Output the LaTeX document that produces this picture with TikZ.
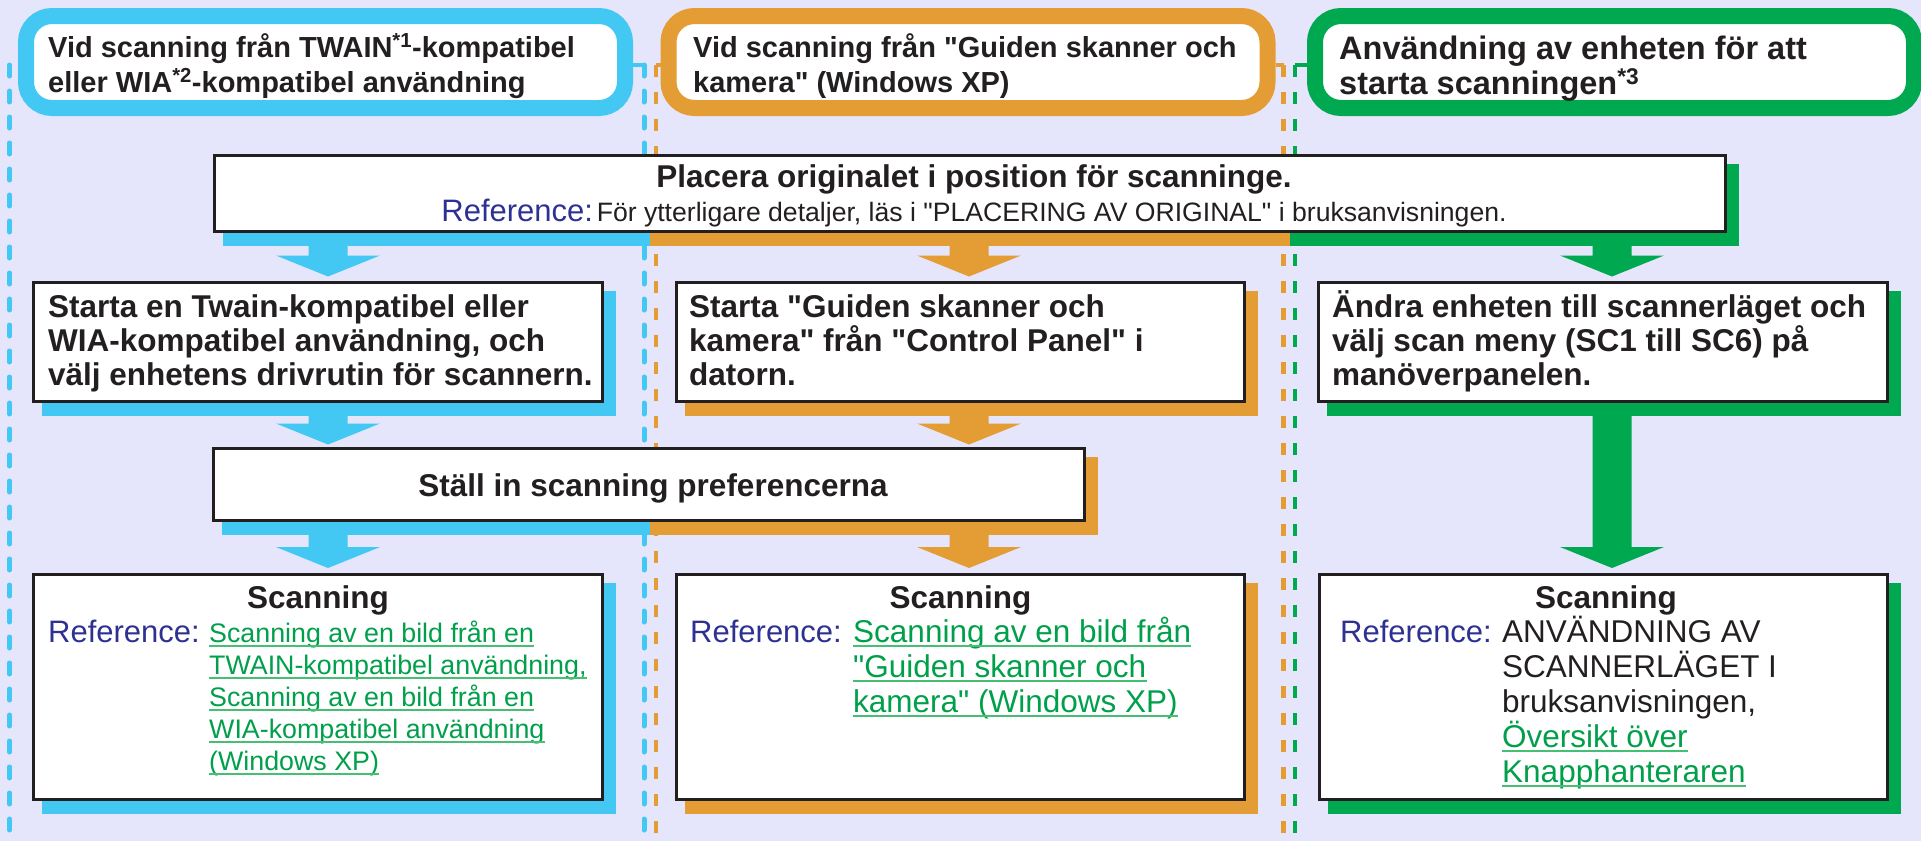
\documentclass[tikz,border=0pt]{standalone}
\usepackage{fontspec}
\setmainfont{Liberation Sans}[Ligatures=TeXOff]
\usetikzlibrary{calc}
\definecolor{bgc}{RGB}{229,229,251}
\definecolor{cB}{RGB}{66,200,243}
\definecolor{cO}{RGB}{228,157,53}
\definecolor{cG}{RGB}{0,168,80}
\definecolor{refblue}{RGB}{46,49,146}
\definecolor{lnk}{RGB}{0,160,75}
\definecolor{ulc}{RGB}{70,190,115}
\definecolor{ink}{RGB}{35,31,32}
\pgfdeclarelayer{back}
\pgfdeclarelayer{shade}
\pgfsetlayers{back,shade,main}
\newcommand\fHead{\bfseries\fontsize{29}{35}\selectfont}
\newcommand\fHeadG{\bfseries\fontsize{32.5}{36}\selectfont}
\newcommand\fBold{\bfseries\fontsize{31.5}{34}\selectfont}
\newcommand\fRef{\fontsize{31}{35}\selectfont\color{refblue}}
\newcommand\fLink{\fontsize{31.5}{35}\selectfont}
\newcommand\fLinkS{\fontsize{26.8}{32}\selectfont}
\newcommand\fSmall{\fontsize{26.6}{30}\selectfont}
\newcommand\fReg{\fontsize{31.5}{35}\selectfont}
\newcommand\fatarr[3]{\fill[#1] let \p1=(#2), \p2=(#3) in
  (\x1-19.5pt,\y1) -- (\x1+19.5pt,\y1) -- (\x1+19.5pt,\y2+21pt) -- (\x1+52pt,\y2+21pt)
  -- (\x1,\y2) -- (\x1-52pt,\y2+21pt) -- (\x1-19.5pt,\y2+21pt) -- cycle;}
\newcommand\linkline[4]{\node[txt, text=lnk] (#1) at (#2) {#3#4};
  \draw[ul] ($(#1.base west)+(0,4)$) -- ($(#1.base east)+(0,4)$);}
\newcommand\shadowof[2]{\fill[#2] ($(#1.north west)+(9.5,9.5)$) rectangle ($(#1.south east)+(11.5,12.5)$);}
\begin{document}
\begin{tikzpicture}[x=1pt,y=-1pt,
  hdr/.style={draw=#1, line width=16pt, fill=white, rounded corners=26pt, inner sep=0pt, minimum height=92pt, minimum width=599pt},
  box/.style={draw=ink, line width=3pt, fill=white, inner sep=0pt},
  txt/.style={inner sep=0pt, anchor=base west, text=ink},
  ctxt/.style={inner sep=0pt, anchor=base, text=ink},
  dB/.style={draw=cB, line width=5pt, line cap=round, dash pattern=on 11pt off 15pt},
  dO/.style={draw=cO, line width=4.5pt, dash pattern=on 12pt off 15pt},
  dG/.style={draw=cG, line width=4.5pt, dash pattern=on 12pt off 15pt},
  ul/.style={draw=ulc, line width=1.8pt}]
\useasboundingbox (0,0) rectangle (1921,841);

% headers
\node[hdr=cB] (hB) at (325.5,62) {};
\node[hdr=cO] (hO) at (968,62) {};
\node[hdr=cG] (hG) at (1614.5,62) {};
\node[txt] (tB1) at (48,57) {\fHead Vid scanning från TWAIN\textsuperscript{*1}-kompatibel};
\node[txt] (tB2) at (48,92) {\fHead eller WIA\textsuperscript{*2}-kompatibel användning};
\node[txt] (tO1) at (693,57) {\fHead Vid scanning från "Guiden skanner och};
\node[txt] (tO2) at (693,92) {\fHead kamera" (Windows XP)};
\node[txt] (tG1) at (1339,59) {\fHeadG Användning av enheten för att};
\node[txt] (tG2) at (1339,94) {\fHeadG starta scanningen\textsuperscript{*3}};

% column dividers
\coordinate (div1) at (649.5,0);
\coordinate (div2) at (1289.5,0);
\coordinate (vB1a) at (9.5,65);
\coordinate (vB1b) at (9.5,841);
\coordinate (vB2b) at (644,841);
\coordinate (vO1b) at (656,841);
\coordinate (vO2b) at (1283.5,841);
\coordinate (vG1b) at (1295,841);
\coordinate (stB) at ($(hB.east)+(0,3)$);
\coordinate (stO1) at ($(hO.west)+(0,3)$);
\coordinate (stO2) at ($(hO.east)+(0,3)$);
\coordinate (stG) at ($(hG.west)+(0,3)$);
\coordinate (vB2a) at (stB -| vB2b);
\coordinate (vO1a) at (stO1 -| vO1b);
\coordinate (vO2a) at (stO2 -| vO2b);
\coordinate (vG1a) at (stG -| vG1b);

% Placera
\node[box, minimum width=1511pt, minimum height=76pt] (pl) at (970,193.5) {};
\node[ctxt] (pl1) at (974,187) {\fBold Placera originalet i position för scanninge.};
\node[ctxt] (pl2) at (974,221) {{\fRef Reference:} {\fSmall För ytterligare detaljer, läs i "PLACERING AV ORIGINAL" i bruksanvisningen.}};

% row 2
\node[box, minimum width=569pt, minimum height=119pt] (b2B) at (318,342) {};
\node[box, minimum width=568pt, minimum height=119pt] (b2O) at (960.5,342) {};
\node[box, minimum width=569pt, minimum height=119pt] (b2G) at (1603,342) {};
\node[txt] (b2B1) at (48,317) {\fBold Starta en Twain-kompatibel eller};
\node[txt] (b2B2) at (48,351) {\fBold WIA-kompatibel användning, och};
\node[txt] (b2B3) at (48,385) {\fBold välj enhetens drivrutin för scannern.};
\node[txt] (b2O1) at (689,317) {\fBold Starta "Guiden skanner och};
\node[txt] (b2O2) at (689,351) {\fBold kamera" från "Control Panel" i};
\node[txt] (b2O3) at (689,385) {\fBold datorn.};
\node[txt] (b2G1) at (1332,317) {\fBold Ändra enheten till scannerläget och};
\node[txt] (b2G2) at (1332,351) {\fBold välj scan meny (SC1 till SC6) på};
\node[txt] (b2G3) at (1332,385) {\fBold manöverpanelen.};

% Stall in
\node[box, minimum width=871pt, minimum height=72pt] (st) at (649,484.5) {};
\node[ctxt] (st1) at (653,496) {\fBold Ställ in scanning preferencerna};

% Scanning boxes
\node[box, minimum width=569pt, minimum height=225pt] (sB) at (318,687) {};
\node[box, minimum width=568pt, minimum height=225pt] (sO) at (960.5,687) {};
\node[box, minimum width=568pt, minimum height=225pt] (sG) at (1603.5,687) {};
\node[ctxt] (sBt) at (318,608) {\fBold Scanning};
\node[ctxt] (sOt) at (960.5,608) {\fBold Scanning};
\node[ctxt] (sGt) at (1606,608) {\fBold Scanning};
\node[txt] (sBr) at (48,642) {\fRef Reference:};
\node[txt] (sOr) at (690,642) {\fRef Reference:};
\node[txt] (sGr) at (1340,642) {\fRef Reference:};
\linkline{lB1}{209,642}{\fLinkS}{Scanning av en bild från en\ }
\linkline{lB2}{209,674}{\fLinkS}{TWAIN-kompatibel användning,}
\linkline{lB3}{209,706}{\fLinkS}{Scanning av en bild från en}
\linkline{lB4}{209,738}{\fLinkS}{WIA-kompatibel användning}
\linkline{lB5}{209,770}{\fLinkS}{(Windows XP)}
\linkline{lO1}{853,642}{\fLink}{Scanning av en bild från}
\linkline{lO2}{853,677}{\fLink}{"Guiden skanner och}
\linkline{lO3}{853,712}{\fLink}{kamera" (Windows XP)}
\node[txt] (gR1) at (1502,642) {\fReg ANVÄNDNING AV};
\node[txt] (gR2) at (1502,677) {\fReg SCANNERLÄGET I};
\node[txt] (gR3) at (1502,712) {\fReg bruksanvisningen,};
\linkline{lG1}{1502,747}{\fLink}{Översikt över}
\linkline{lG2}{1502,782}{\fLink}{Knapphanteraren}

% background and dashed guides
\begin{pgfonlayer}{back}
\fill[bgc] (0,0) rectangle (1921,841);
\draw[dB] (vB1a) -- (vB1b);
\draw[draw=cB, line width=4pt] (stB) -- (vB2a);
\draw[dB] (vB2a) -- (vB2b);
\draw[draw=cO, line width=4pt] (stO1) -- (vO1a);
\draw[dO] (vO1a) -- (vO1b);
\draw[draw=cO, line width=4pt] (stO2) -- (vO2a);
\draw[dO] (vO2a) -- (vO2b);
\draw[draw=cG, line width=4pt] (stG) -- (vG1a);
\draw[dG] (vG1a) -- (vG1b);
\end{pgfonlayer}

% shadows and arrows
\begin{pgfonlayer}{shade}
\fill[cB] ($(pl.north west)+(9.5,9.5)$) rectangle ($(pl.south -| div1)+(0,12.5)$);
\fill[cO] ($(pl.north -| div1)+(0,9.5)$) rectangle ($(pl.south -| div2)+(0,12.5)$);
\fill[cG] ($(pl.north -| div2)+(0,9.5)$) rectangle ($(pl.south east)+(11.5,12.5)$);
\fill[cB] ($(st.north west)+(9.5,9.5)$) rectangle ($(st.south -| div1)+(0,12.5)$);
\fill[cO] ($(st.north -| div1)+(0,9.5)$) rectangle ($(st.south east)+(11.5,12.5)$);
\shadowof{b2B}{cB}
\shadowof{b2O}{cO}
\shadowof{b2G}{cG}
\shadowof{sB}{cB}
\shadowof{sO}{cO}
\shadowof{sG}{cG}
\fatarr{cB}{$(pl.south -| b2B.north)+(10,11.5)$}{$(b2B.north)+(10,-4.5)$}
\fatarr{cO}{$(pl.south -| b2O.north)+(8.5,11.5)$}{$(b2O.north)+(8.5,-4.5)$}
\fatarr{cG}{$(pl.south -| b2G.north)+(9,11.5)$}{$(b2G.north)+(9,-4.5)$}
\fatarr{cB}{$(b2B.south)+(10,11.5)$}{$(st.north -| b2B.south)+(10,-2.5)$}
\fatarr{cO}{$(b2O.south)+(8.5,11.5)$}{$(st.north -| b2O.south)+(8.5,-2.5)$}
\fatarr{cB}{$(st.south -| sB.north)+(10,11.5)$}{$(sB.north)+(10,-5)$}
\fatarr{cO}{$(st.south -| sO.north)+(8.5,11.5)$}{$(sO.north)+(8.5,-5)$}
\fatarr{cG}{$(b2G.south)+(9,11.5)$}{$(sG.north)+(8.5,-5)$}
\end{pgfonlayer}
\end{tikzpicture}
\end{document}
